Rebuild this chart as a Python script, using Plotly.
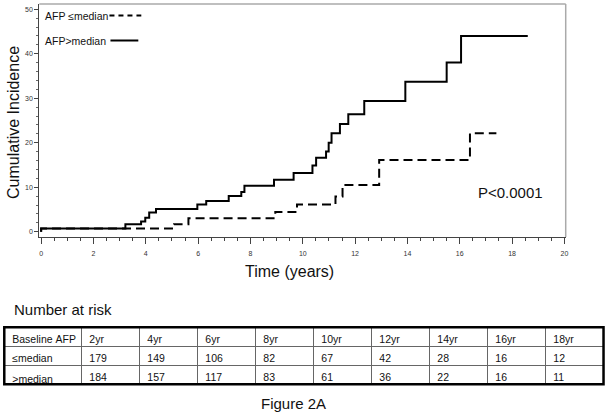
import plotly.graph_objects as go

W, H = 612, 417

# ---- data ----
high_t = [0, 0, 3.22, 3.82, 3.98, 4.13, 4.39, 5.97, 6.31, 7.17, 7.65, 7.77, 8.9, 9.65,
          10.37, 10.51, 10.89, 10.99, 11.1, 11.42, 11.74, 12.35, 13.92, 15.5, 16.05, 18.6]
high_v = [0, 0.7, 1.7, 2.3, 3.15, 4.3, 5.1, 6.1, 6.9, 8.0, 8.9, 10.3, 11.7, 13.2,
          14.9, 16.6, 18.0, 20.0, 22.1, 24.2, 26.4, 29.4, 33.7, 38.0, 44.0, 44.0]
low_t = [0, 0, 5.08, 5.63, 8.95, 9.78, 11.25, 11.52, 12.92, 16.39, 17.4]
low_v = [0, 0.7, 1.7, 3.05, 4.43, 6.1, 7.9, 10.5, 16.1, 22.1, 22.1]

x_ticks = list(range(0, 21, 2))
y_ticks = list(range(0, 51, 10))

table_header = ["Baseline\u00a0AFP", "2yr", "4yr", "6yr", "8yr", "10yr", "12yr", "14yr", "16yr", "18yr"]
row_labels = ["\u2264median", ">median"]
risk_low = [179, 149, 106, 82, 67, 42, 28, 16, 12]
risk_high = [184, 157, 117, 83, 61, 36, 22, 16, 11]

FONT = "Liberation Sans, Arial, sans-serif"
TXT = "#111111"

def px(x):
    return x / W

def py(y):
    return 1 - y / H

# plot area in pixels
L, R, T, B = 39.5, 568.5, 4.0, 237.0

fig = go.Figure()

fig.add_trace(go.Scatter(x=low_t, y=low_v, mode="lines", line_shape="hv",
                         line=dict(color="black", width=2, dash="9px,5px"),
                         showlegend=False, hoverinfo="skip"))
fig.add_trace(go.Scatter(x=high_t, y=high_v, mode="lines", line_shape="hv",
                         line=dict(color="black", width=2),
                         showlegend=False, hoverinfo="skip"))

cells_cols = [row_labels] + [[a, b] for a, b in zip(risk_low, risk_high)]
fig.add_trace(go.Table(
    domain=dict(x=[px(4.3), px(606.5)], y=[py(384.3), py(327.3)]),
    columnwidth=[77.5] + [58.3] * 9,
    header=dict(values=table_header, height=19, align="left",
                fill_color="white", line=dict(color="#666666", width=1),
                font=dict(family=FONT, size=10.5, color=TXT)),
    cells=dict(values=cells_cols, height=19, align="left",
               fill_color="white", line=dict(color="#666666", width=1),
               font=dict(family=FONT, size=10.5, color=TXT)),
))

fig.update_layout(
    width=W, height=H,
    margin=dict(l=0, r=0, t=0, b=0),
    paper_bgcolor="white", plot_bgcolor="white",
    font=dict(family=FONT, color=TXT),
    xaxis=dict(domain=[px(L), px(R)], range=[-0.07, 20.05],
               tickvals=x_ticks, ticks="outside", ticklen=6, tickcolor="#444",
               showline=True, linecolor="#444", linewidth=1,
               showgrid=False, zeroline=False,
               tickfont=dict(size=7, color="#333"), ticklabelstandoff=4,
               minor=dict(dtick=0.5, ticks="outside", ticklen=3, tickcolor="#444", showgrid=False)),
    yaxis=dict(domain=[py(B), py(T)], range=[-1.19, 51.17],
               tickvals=y_ticks, ticks="outside", ticklen=4, tickcolor="#444",
               showline=True, linecolor="#444", linewidth=1,
               showgrid=False, zeroline=False,
               tickfont=dict(size=7, color="#333"),
               minor=dict(dtick=2, ticks="outside", ticklen=2, tickcolor="#666", showgrid=False)),
)

shapes = [
    dict(type="line", xref="paper", yref="paper", x0=px(L), x1=px(R), y0=py(T), y1=py(T),
         line=dict(color="#aaaaaa", width=1.5)),
    dict(type="line", xref="paper", yref="paper", x0=px(R), x1=px(R), y0=py(T), y1=py(B),
         line=dict(color="#aaaaaa", width=1.5)),
    dict(type="line", xref="paper", yref="paper", x0=px(110), x1=px(142), y0=py(15.5), y1=py(15.5),
         line=dict(color="black", width=2, dash="5px,4px")),
    dict(type="line", xref="paper", yref="paper", x0=px(111), x1=px(139), y0=py(40.5), y1=py(40.5),
         line=dict(color="black", width=2)),
    dict(type="rect", xref="paper", yref="paper", x0=px(4.3), x1=px(606.5), y0=py(384.3), y1=py(327.3),
         line=dict(color="black", width=2.5)),
]
fig.update_layout(shapes=shapes)

ann = [
    dict(text="AFP \u2264median", x=px(43), y=py(15.7), xanchor="left", yanchor="middle", size=10.5),
    dict(text="AFP>median", x=px(43), y=py(40.5), xanchor="left", yanchor="middle", size=10.5),
    dict(text="P<0.0001", x=px(478), y=py(192), xanchor="left", yanchor="middle", size=15),
    dict(text="Time (years)", x=px(291), y=py(271.7), xanchor="center", yanchor="middle", size=16),
    dict(text="Number at risk", x=px(11.7), y=py(309), xanchor="left", yanchor="middle", size=15),
    dict(text="Figure 2A", x=px(295), y=py(403.3), xanchor="center", yanchor="middle", size=15),
]
for a in ann:
    fig.add_annotation(xref="paper", yref="paper", x=a["x"], y=a["y"], text=a["text"],
                       xanchor=a["xanchor"], yanchor=a["yanchor"], showarrow=False,
                       font=dict(family=FONT, size=a["size"], color=TXT))
fig.add_annotation(xref="paper", yref="paper", x=px(14), y=py(122), text="Cumulative Incidence",
                   textangle=-90, showarrow=False, xanchor="center", yanchor="middle",
                   font=dict(family=FONT, size=16, color=TXT))

fig.write_html("out.html", config={"displayModeBar": False},
               post_script="document.body.style.margin='0';document.body.style.padding='0';")
